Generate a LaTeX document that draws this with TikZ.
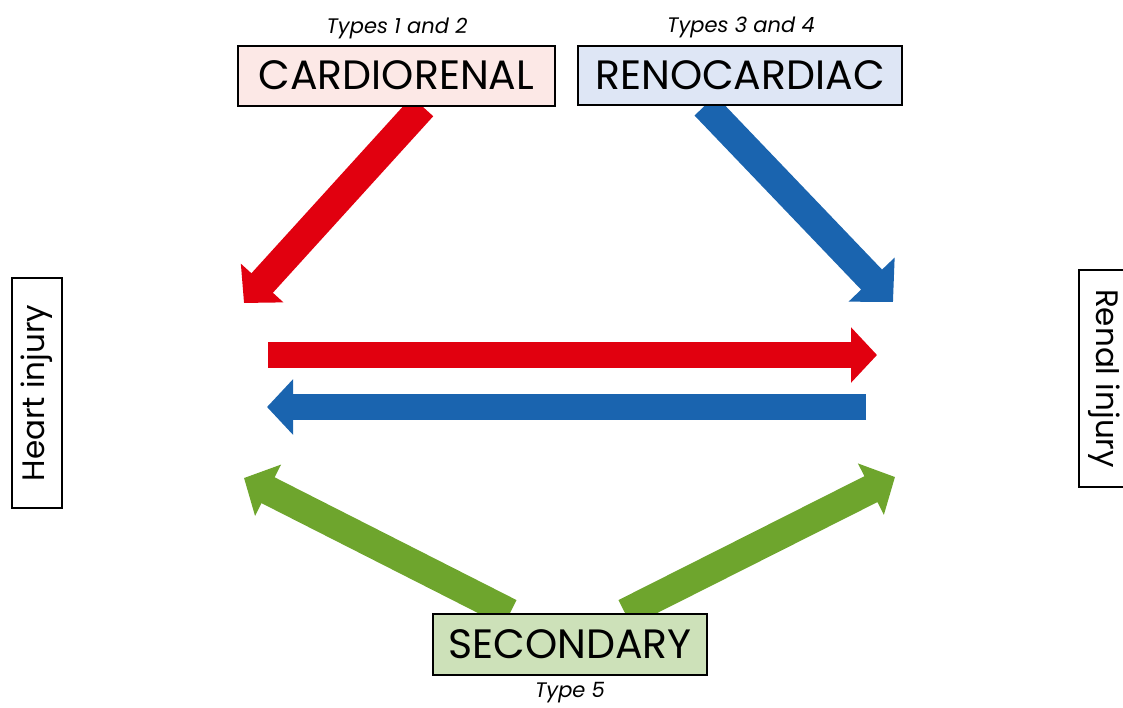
\documentclass[tikz,border=0pt]{standalone}
\usepackage{fontspec}
\setmainfont{Poppins}
\usetikzlibrary{arrows.meta,backgrounds,calc}
\definecolor{cred}{RGB}{225,0,15}
\definecolor{cblue}{RGB}{26,100,175}
\definecolor{cgreen}{RGB}{110,165,45}
\definecolor{fpink}{RGB}{252,232,230}
\definecolor{fblue}{RGB}{222,230,245}
\definecolor{fgreen}{RGB}{205,225,185}
\tikzset{
  bigbox/.style={draw=black, line width=2pt, inner sep=0pt, font=\fontsize{41}{44}\selectfont},
  sidebox/.style={draw=black, line width=2pt, inner sep=0pt, font=\fontsize{31}{34}\selectfont},
  typelab/.style={font=\itshape\fontsize{21}{24}\selectfont, inner sep=0pt},
  fat/.style={line width=29pt, -{Triangle[length=27pt,width=56pt]}},
}
\begin{document}
\begin{tikzpicture}[x=1pt,y=-1pt]
\useasboundingbox (0,0) rectangle (1123,707);
\node[bigbox, fill=fpink, minimum width=317pt, minimum height=60pt] (card) at (396.5,75.5) {CARDIORENAL};
\node[bigbox, fill=fblue, minimum width=324pt, minimum height=59pt] (reno) at (740,75) {RENOCARDIAC};
\node[bigbox, fill=fgreen, minimum width=274pt, minimum height=61pt] (sec) at (570,644.5) {SECONDARY};
\node[typelab] (t12) at (397,28) {Types 1 and 2};
\node[typelab] (t34) at (741,27) {Types 3 and 4};
\node[typelab] (t5) at (570,693) {Type 5};
\node[sidebox, fill=white, rotate=90, minimum width=230pt, minimum height=50pt] (heart) at (37,393) {Heart injury};
\node[sidebox, fill=white, rotate=-90, minimum width=217pt, minimum height=51pt] (renal) at (1104.5,378.5) {Renal injury};
\coordinate (h1) at (244,303);
\coordinate (r1) at (893,302);
\coordinate (r2) at (877,355);
\coordinate (h2) at (267,407);
\coordinate (h3) at (244,478);
\coordinate (r3) at (895,477);
\coordinate (h2s) at (268,355);
\coordinate (r2s) at (866,407);
\begin{scope}[on background layer]
\draw[fat, cred] ($(card.south)+(26,0)$) -- (h1);
\draw[fat, cblue, -{Triangle[length=31pt,width=62pt]}] ($(reno.south)+(-35,0)$) -- (r1);
\draw[fat, cred, line width=26pt, -{Triangle[length=26pt,width=54pt]}] (h2s) -- (r2);
\draw[fat, cblue, line width=26pt, -{Triangle[length=26pt,width=54pt]}] (r2s) -- (h2);
\draw[fat, cgreen] ($(sec.north)+(-60,0)$) -- (h3);
\draw[fat, cgreen] ($(sec.north)+(55,0)$) -- (r3);
\end{scope}
\end{tikzpicture}
\end{document}
